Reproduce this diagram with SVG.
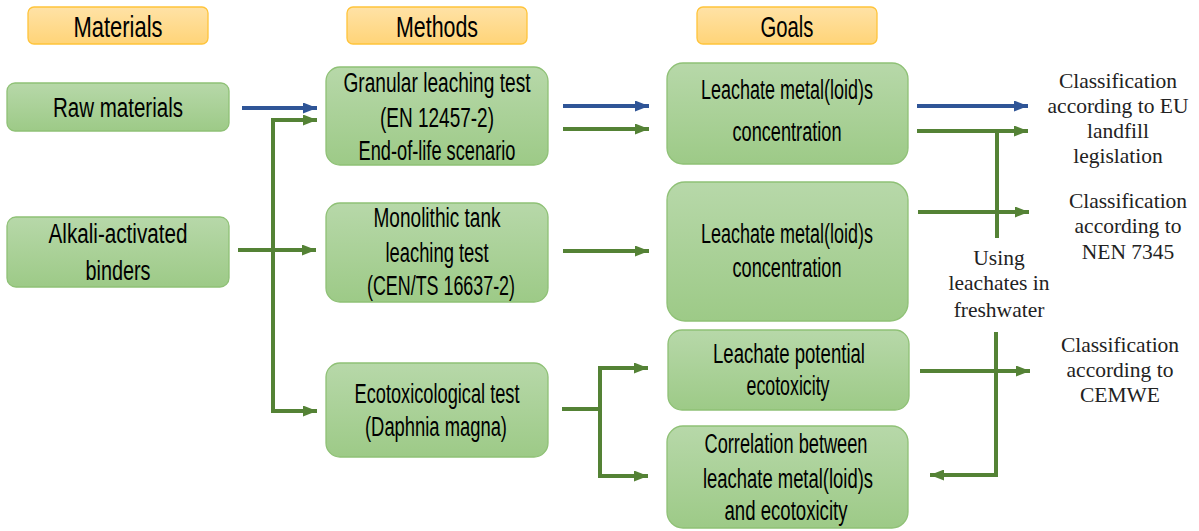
<svg xmlns="http://www.w3.org/2000/svg" width="1199" height="531" viewBox="0 0 1199 531">
<defs>
<linearGradient id="gG" x1="0" y1="0" x2="0" y2="1">
<stop offset="0" stop-color="#B7D8A9"/>
<stop offset="1" stop-color="#9DCA87"/>
</linearGradient>
<linearGradient id="gO" x1="0" y1="0" x2="0" y2="1">
<stop offset="0" stop-color="#FFE2A6"/>
<stop offset="1" stop-color="#FFD478"/>
</linearGradient>
<marker id="aG" markerWidth="14" markerHeight="11" refX="14" refY="5.5" orient="auto" markerUnits="userSpaceOnUse">
<path d="M0,0 L14,5.5 L0,11 Z" fill="#548235"/>
</marker>
<marker id="aB" markerWidth="14" markerHeight="11" refX="14" refY="5.5" orient="auto" markerUnits="userSpaceOnUse">
<path d="M0,0 L14,5.5 L0,11 Z" fill="#2F5597"/>
</marker>
</defs>
<style>
.n{fill:url(#gG);stroke:#8FC176;stroke-width:1.3}
.h{fill:url(#gO);stroke:#FFC43A;stroke-width:1.3}
.t{font-family:"Liberation Sans","DejaVu Sans",sans-serif;font-size:27px;fill:#000;text-anchor:middle}
.th{font-size:30px}
.s{font-family:"Liberation Serif","Times New Roman",serif;font-size:21.5px;fill:#222;text-anchor:middle}
.g{fill:none;stroke:#548235;stroke-width:4}
.gm{marker-end:url(#aG)}
.b{fill:none;stroke:#2F5597;stroke-width:4;marker-end:url(#aB)}
</style>
<rect width="1199" height="531" fill="#fff"/>
<g id="hdr-materials"><rect class="h" x="28" y="7" width="180" height="37" rx="6"/><text class="t th" x="118" y="37" textLength="89" lengthAdjust="spacingAndGlyphs">Materials</text></g>
<g id="hdr-methods"><rect class="h" x="347" y="7" width="180" height="37" rx="6"/><text class="t th" x="437" y="37" textLength="82" lengthAdjust="spacingAndGlyphs">Methods</text></g>
<g id="hdr-goals"><rect class="h" x="697" y="7" width="180" height="37" rx="6"/><text class="t th" x="787" y="37" textLength="53" lengthAdjust="spacingAndGlyphs">Goals</text></g>

<g id="raw"><rect class="n" x="7" y="83" width="222" height="48" rx="8"/><text class="t" x="118" y="117" textLength="130" lengthAdjust="spacingAndGlyphs">Raw materials</text></g>
<g id="alkali"><rect class="n" x="7" y="217" width="222" height="70" rx="9"/><text class="t" x="118" y="243" textLength="139" lengthAdjust="spacingAndGlyphs">Alkali-activated</text><text class="t" x="118" y="280" textLength="65" lengthAdjust="spacingAndGlyphs">binders</text></g>

<g id="granular"><rect class="n" x="326" y="67" width="222" height="98" rx="14"/><text class="t" x="437" y="92" textLength="187" lengthAdjust="spacingAndGlyphs">Granular leaching test</text><text class="t" x="437" y="127" textLength="114" lengthAdjust="spacingAndGlyphs">(EN 12457-2)</text><text class="t" x="437" y="160" textLength="157" lengthAdjust="spacingAndGlyphs">End-of-life scenario</text></g>
<g id="monolithic"><rect class="n" x="326" y="203" width="222" height="99" rx="14"/><text class="t" x="437" y="227" textLength="127" lengthAdjust="spacingAndGlyphs">Monolithic tank</text><text class="t" x="437" y="262" textLength="103" lengthAdjust="spacingAndGlyphs">leaching test</text><text class="t" x="441" y="295" textLength="148" lengthAdjust="spacingAndGlyphs">(CEN/TS 16637-2)</text></g>
<g id="ecotox"><rect class="n" x="326" y="363" width="222" height="94" rx="14"/><text class="t" x="437" y="403" textLength="165" lengthAdjust="spacingAndGlyphs">Ecotoxicological test</text><text class="t" x="436" y="436" textLength="142" lengthAdjust="spacingAndGlyphs">(Daphnia magna)</text></g>

<g id="goal1"><rect class="n" x="667" y="63" width="241" height="101" rx="16"/><text class="t" x="787" y="99" textLength="172" lengthAdjust="spacingAndGlyphs">Leachate metal(loid)s</text><text class="t" x="787" y="141" textLength="109" lengthAdjust="spacingAndGlyphs">concentration</text></g>
<g id="goal2"><rect class="n" x="667" y="182" width="241" height="139" rx="18"/><text class="t" x="787" y="243" textLength="172" lengthAdjust="spacingAndGlyphs">Leachate metal(loid)s</text><text class="t" x="787" y="277" textLength="109" lengthAdjust="spacingAndGlyphs">concentration</text></g>
<g id="goal3"><rect class="n" x="668" y="330" width="241" height="80" rx="14"/><text class="t" x="789" y="363" textLength="152" lengthAdjust="spacingAndGlyphs">Leachate potential</text><text class="t" x="788" y="395" textLength="83" lengthAdjust="spacingAndGlyphs">ecotoxicity</text></g>
<g id="goal4"><rect class="n" x="667" y="426" width="241" height="102" rx="16"/><text class="t" x="786" y="453" textLength="163" lengthAdjust="spacingAndGlyphs">Correlation between</text><text class="t" x="788" y="488" textLength="170" lengthAdjust="spacingAndGlyphs">leachate metal(loid)s</text><text class="t" x="786" y="520" textLength="123" lengthAdjust="spacingAndGlyphs">and ecotoxicity</text></g>

<g id="out-eu"><text class="s" x="1118" y="88">Classification</text><text class="s" x="1118" y="113">according to EU</text><text class="s" x="1118" y="138">landfill</text><text class="s" x="1118" y="163">legislation</text></g>
<g id="out-nen"><text class="s" x="1128" y="208">Classification</text><text class="s" x="1128" y="233">according to</text><text class="s" x="1128" y="259">NEN 7345</text></g>
<g id="out-cemwe"><text class="s" x="1120" y="352">Classification</text><text class="s" x="1120" y="377">according to</text><text class="s" x="1120" y="402">CEMWE</text></g>
<g id="label-fresh"><text class="s" x="999" y="265">Using</text><text class="s" x="999" y="290">leachates in</text><text class="s" x="999" y="317">freshwater</text></g>

<g id="connectors">
<line class="b" x1="242" y1="108" x2="317" y2="108"/>
<line class="b" x1="563" y1="106" x2="649" y2="106"/>
<line class="b" x1="917" y1="106" x2="1028" y2="106"/>
<path class="g gm" d="M273,411 V120 H317"/>
<line class="g gm" x1="238" y1="250" x2="316" y2="250"/>
<line class="g gm" x1="271" y1="411" x2="317" y2="411"/>
<line class="g gm" x1="563" y1="129" x2="649" y2="129"/>
<line class="g gm" x1="563" y1="251" x2="649" y2="251"/>
<line class="g gm" x1="917" y1="131" x2="1028" y2="131"/>
<line class="g" x1="997" y1="129" x2="997" y2="238"/>
<line class="g gm" x1="918" y1="212" x2="1029" y2="212"/>
<path class="g gm" d="M996,332 V475 H930"/>
<line class="g gm" x1="920" y1="371" x2="1030" y2="371"/>
<line class="g" x1="562" y1="409" x2="600" y2="409"/>
<path class="g" d="M600,368 V476"/>
<line class="g gm" x1="598" y1="368" x2="648" y2="368"/>
<line class="g gm" x1="598" y1="476" x2="648" y2="476"/>
</g>
</svg>
